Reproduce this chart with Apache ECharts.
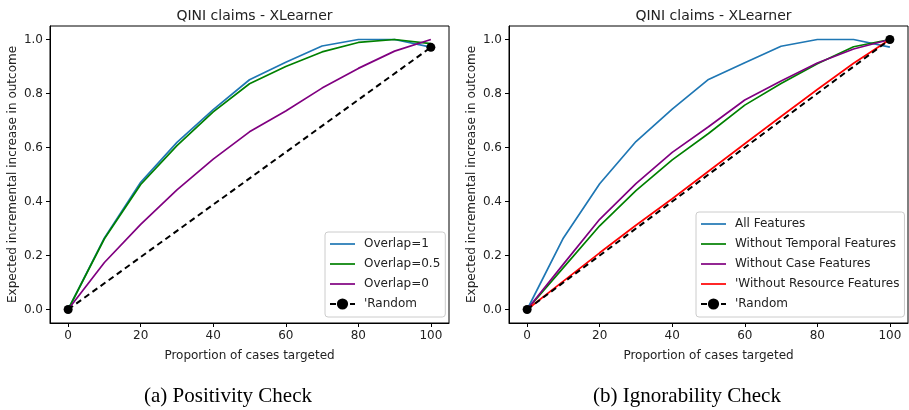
<!DOCTYPE html>
<html>
<head>
<meta charset="utf-8">
<script src="https://cdn.jsdelivr.net/npm/echarts@6/dist/echarts.min.js"></script>
<style>
html,body{margin:0;padding:0;background:#fff;}
#chart{width:909px;height:410px;}
</style>
</head>
<body>
<div id="chart"></div>
<script>
var xValues = [0, 10, 20, 30, 40, 50, 60, 70, 80, 90, 100];
var xTicks = [0, 20, 40, 60, 80, 100];
var yTicks = [0, 0.2, 0.4, 0.6, 0.8, 1.0];

// (a) Positivity Check
var overlap1 = [0, 0.265, 0.471, 0.619, 0.740, 0.851, 0.916, 0.976, 1.0, 1.0, 0.972];
var overlap05 = [0, 0.262, 0.463, 0.607, 0.732, 0.836, 0.900, 0.954, 0.989, 1.0, 0.985];
var overlap0 = [0, 0.174, 0.315, 0.443, 0.557, 0.658, 0.735, 0.820, 0.893, 0.957, 1.0];
var randomAx = [0, 100];
var randomAy = [0, 0.971];

// (b) Ignorability Check
var allFeatures = [0, 0.265, 0.466, 0.622, 0.742, 0.852, 0.914, 0.975, 1.0, 1.0, 0.972];
var withoutTemporal = [0, 0.155, 0.310, 0.440, 0.554, 0.652, 0.757, 0.837, 0.910, 0.973, 1.0];
var withoutCase = [0, 0.168, 0.334, 0.466, 0.582, 0.677, 0.776, 0.846, 0.913, 0.965, 1.0];
var withoutResource = [0, 0.105, 0.21, 0.312, 0.41, 0.512, 0.614, 0.715, 0.815, 0.912, 1.0];
var randomBx = [0, 100];
var randomBy = [0, 1.0];

function pairs(xs, ys) { return xs.map(function (x, i) { return [x, ys[i]]; }); }

var FONT = 'DejaVu Sans';
var TXT = '#222';
var LINE_ICON = 'path://M0,0 L50,0 L50,3.4 L0,3.4 Z';

function xAxisFor(idx) {
  return {
    type: 'value', gridIndex: idx, min: -5, max: 105,
    name: 'Proportion of cases targeted', nameLocation: 'middle', nameGap: 27,
    nameTextStyle: { fontFamily: FONT, fontSize: 12, color: TXT },
    axisLine: { show: true, onZero: false, lineStyle: { color: '#000', width: 1 } },
    axisTick: { show: true, length: 4, inside: false, customValues: xTicks, lineStyle: { color: '#000' } },
    axisLabel: { customValues: xTicks, fontFamily: FONT, fontSize: 12, color: TXT, margin: 7 },
    splitLine: { show: false }
  };
}
function yAxisFor(idx) {
  return {
    type: 'value', gridIndex: idx, min: -0.05, max: 1.05,
    name: 'Expected incremental increase in outcome', nameLocation: 'middle', nameGap: 31, nameRotate: 90,
    nameTextStyle: { fontFamily: FONT, fontSize: 12, color: TXT },
    axisLine: { show: true, onZero: false, lineStyle: { color: '#000', width: 1 } },
    axisTick: { show: true, length: 4, inside: false, customValues: yTicks, lineStyle: { color: '#000' } },
    axisLabel: { customValues: yTicks, fontFamily: FONT, fontSize: 12, color: TXT, margin: 7,
      formatter: function (v) { return v.toFixed(1); } },
    splitLine: { show: false }
  };
}
function lineSeries(name, color, data, idx) {
  return {
    name: name, type: 'line', xAxisIndex: idx, yAxisIndex: idx,
    data: data, symbol: 'none', animation: false,
    lineStyle: { color: color, width: 1.7 }, itemStyle: { color: color }
  };
}
function randomSeries(data, idx) {
  return {
    name: "'Random", type: 'line', xAxisIndex: idx, yAxisIndex: idx,
    data: data, symbol: 'circle', symbolSize: 9, showSymbol: true, animation: false,
    lineStyle: { color: '#000', width: 2, type: [6, 4] }, itemStyle: { color: '#000' }
  };
}
function lineItem(name) { return { name: name, icon: LINE_ICON }; }

var legendCommon = {
  orient: 'vertical', itemWidth: 25, itemHeight: 14, itemGap: 0,
  padding: [2, 5, 3, 4], borderColor: '#ccc', borderWidth: 1, borderRadius: 3,
  backgroundColor: 'rgba(255,255,255,0.85)',
  itemStyle: { borderWidth: 0 },
  textStyle: { fontFamily: FONT, fontSize: 12, color: TXT, lineHeight: 20, padding: [0, 0, 0, 4] },
  selectedMode: false
};

var option = {
  backgroundColor: '#fff',
  animation: false,
  title: [
    { text: 'QINI claims - XLearner', left: 249.5, top: 4, textAlign: 'center',
      textStyle: { fontFamily: FONT, fontSize: 14, fontWeight: 'normal', color: TXT } },
    { text: 'QINI claims - XLearner', left: 708.5, top: 4, textAlign: 'center',
      textStyle: { fontFamily: FONT, fontSize: 14, fontWeight: 'normal', color: TXT } }
  ],
  grid: [
    { left: 50, top: 26, width: 399, height: 297, show: true, borderColor: '#000', borderWidth: 1, backgroundColor: 'transparent' },
    { left: 509, top: 26, width: 399, height: 297, show: true, borderColor: '#000', borderWidth: 1, backgroundColor: 'transparent' }
  ],
  xAxis: [xAxisFor(0), xAxisFor(1)],
  yAxis: [yAxisFor(0), yAxisFor(1)],
  legend: [
    Object.assign({}, legendCommon, { left: 325, top: 232,
      data: [lineItem('Overlap=1'), lineItem('Overlap=0.5'), lineItem('Overlap=0'), "'Random"] }),
    Object.assign({}, legendCommon, { left: 696, top: 212,
      data: [lineItem('All Features'), lineItem('Without Temporal Features'), lineItem('Without Case Features'), lineItem("'Without Resource Features"), "'Random"] })
  ],
  series: [
    lineSeries('Overlap=1', '#1f77b4', pairs(xValues, overlap1), 0),
    lineSeries('Overlap=0.5', '#008000', pairs(xValues, overlap05), 0),
    lineSeries('Overlap=0', '#800080', pairs(xValues, overlap0), 0),
    randomSeries(pairs(randomAx, randomAy), 0),
    lineSeries('All Features', '#1f77b4', pairs(xValues, allFeatures), 1),
    lineSeries('Without Temporal Features', '#008000', pairs(xValues, withoutTemporal), 1),
    lineSeries('Without Case Features', '#800080', pairs(xValues, withoutCase), 1),
    lineSeries("'Without Resource Features", '#ff0000', pairs(xValues, withoutResource), 1),
    randomSeries(pairs(randomBx, randomBy), 1)
  ],
  graphic: [
    { type: 'text', x: 228, y: 396, style: { text: '(a) Positivity Check', font: '21px "Liberation Serif"', fill: '#000', align: 'center', verticalAlign: 'middle' } },
    { type: 'text', x: 687, y: 396, style: { text: '(b) Ignorability Check', font: '21px "Liberation Serif"', fill: '#000', align: 'center', verticalAlign: 'middle' } }
  ]
};

var chart = echarts.init(document.getElementById('chart'), null, { renderer: 'canvas' });
chart.setOption(option);
</script>
</body>
</html>
